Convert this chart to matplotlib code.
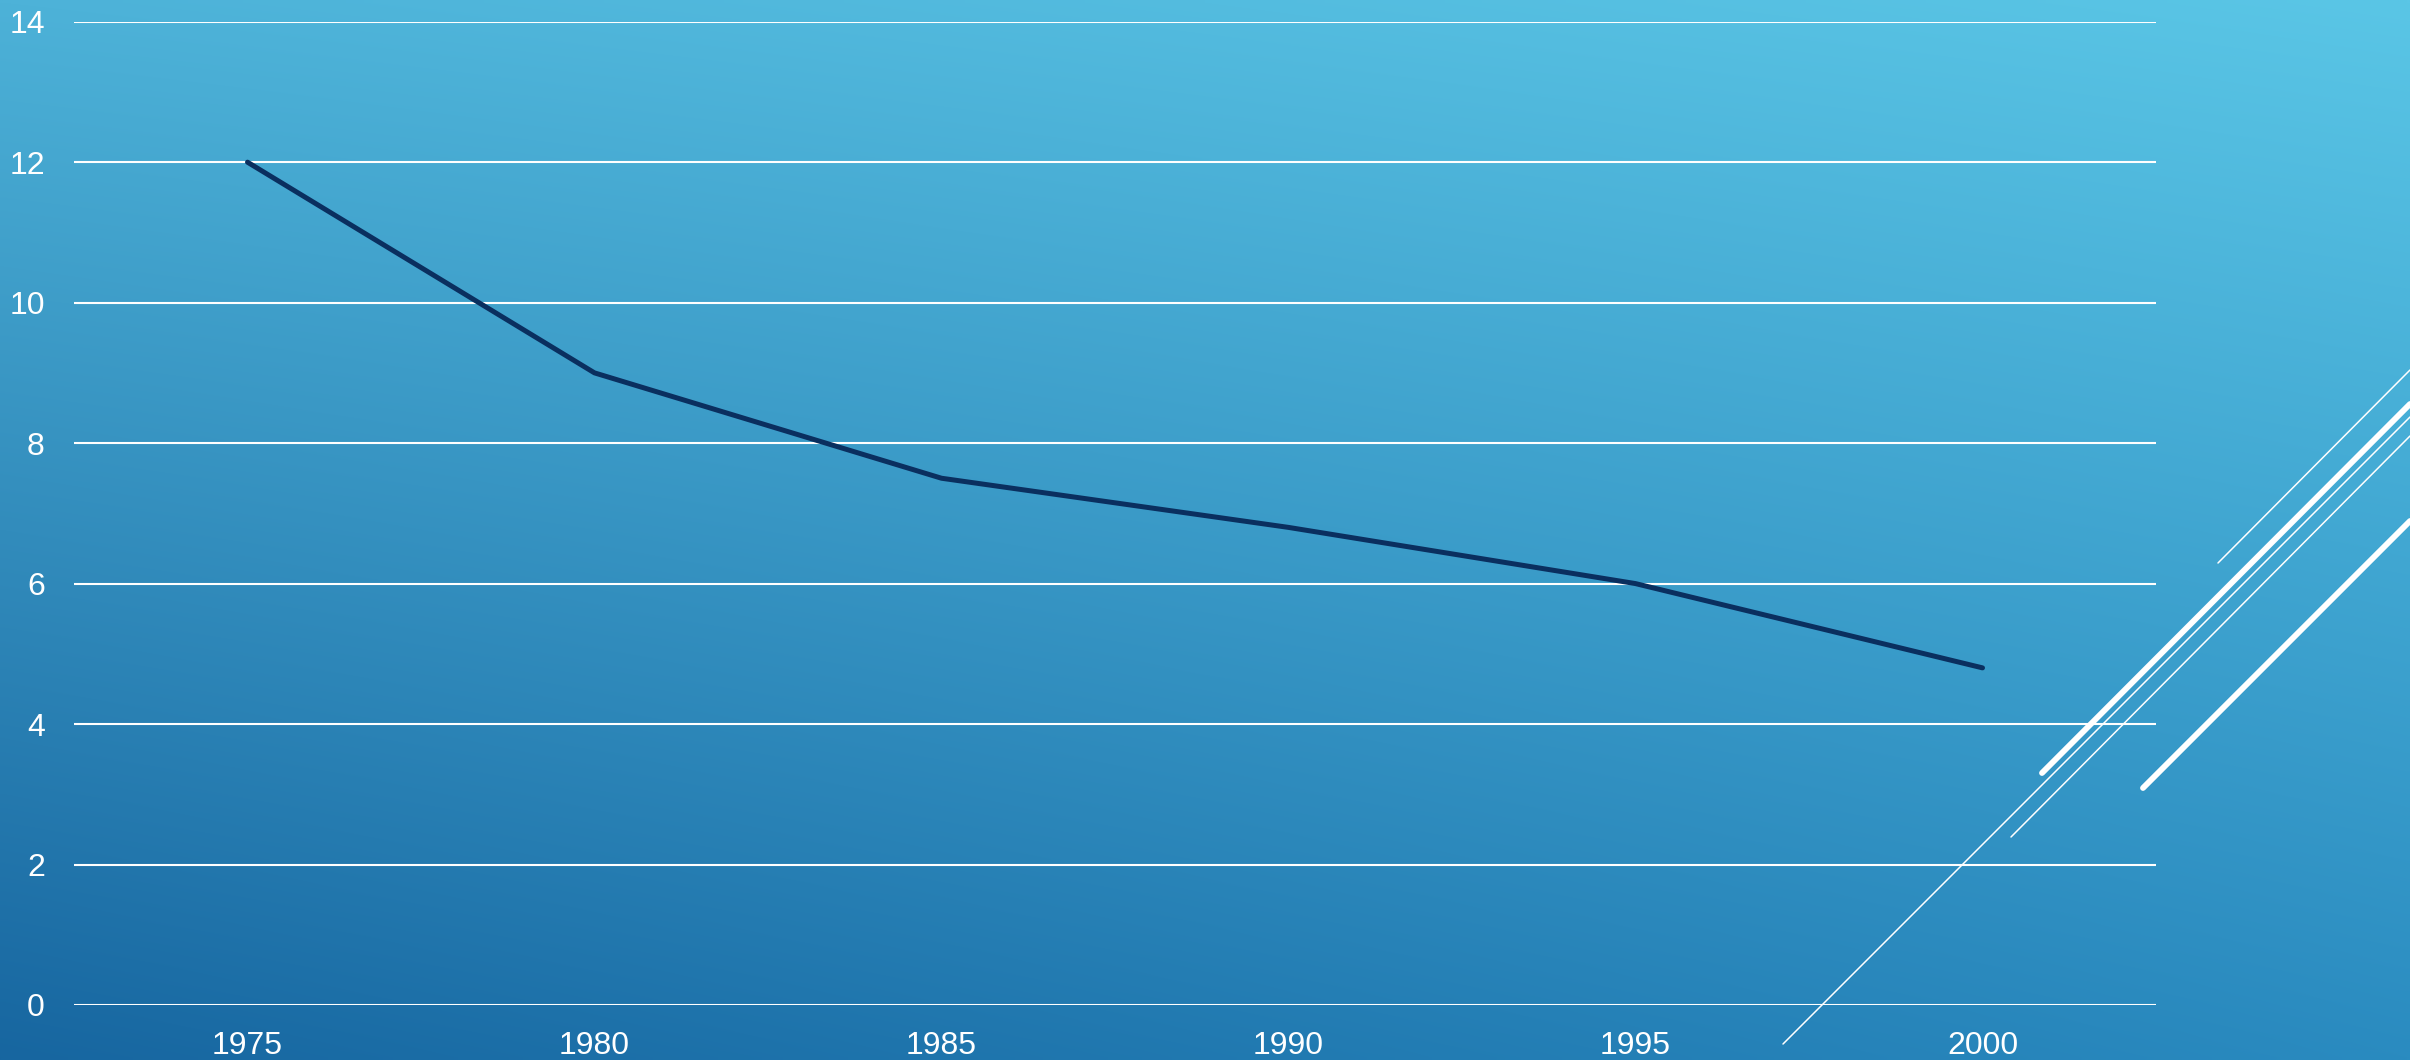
import numpy as np
import matplotlib.pyplot as plt
from matplotlib.lines import Line2D

years = [1975, 1980, 1985, 1990, 1995, 2000]
values = [12.0, 9.0, 7.5, 6.8, 6.0, 4.8]
yticks = [0, 2, 4, 6, 8, 10, 12, 14]

W, H = 2410, 1060
fig = plt.figure(figsize=(W/100, H/100), dpi=100)
plt.rcParams['font.family'] = ['Liberation Sans', 'DejaVu Sans']

# background gradient (corner colours)
tl = np.array([0x4D, 0xB2, 0xD8]) / 255
tr = np.array([0x5A, 0xC6, 0xE6]) / 255
bl = np.array([0x17, 0x66, 0xA0]) / 255
br = np.array([0x2A, 0x8B, 0xC0]) / 255
u = np.linspace(0, 1, 400)[None, :, None]
v = np.linspace(0, 1, 200)[:, None, None]
grad = (1-v)*((1-u)*tl + u*tr) + v*((1-u)*bl + u*br)
bg = fig.add_axes([0, 0, 1, 1])
bg.imshow(grad, aspect='auto', extent=[0, 1, 0, 1], interpolation='bilinear')
bg.axis('off')

ax = fig.add_axes([74/W, 1-1005/H, (2156-74)/W, (1005-21.7)/H])
ax.patch.set_alpha(0)
for s in ax.spines.values():
    s.set_visible(False)
ax.set_ylim(0, 14)
ax.set_xlim(1972.5, 2002.5)
ax.set_yticks(yticks)
ax.set_xticks(years)
ax.grid(axis='y', color='white', lw=1.5)
ax.set_axisbelow(True)
ax.tick_params(length=0, labelsize=23, colors='white')
ax.tick_params(axis='y', pad=21)
ax.tick_params(axis='x', pad=19)
ax.plot(years, values, color='#0A2F5F', lw=3.6, solid_capstyle='round', solid_joinstyle='round')

# decorative diagonal strokes
deco = [((2218, 563), (2410, 370), 1.1),
        ((2042, 773), (2410, 404), 4.2),
        ((1783, 1044), (2410, 417), 1.1),
        ((2011, 837), (2410, 436), 1.1),
        ((2143, 788), (2410, 521), 4.2)]
for (x0, y0), (x1, y1), lw in deco:
    fig.add_artist(Line2D([x0/W, x1/W], [1-y0/H, 1-y1/H], color='white', lw=lw,
                          solid_capstyle='round', transform=fig.transFigure))

fig.savefig('out.png', dpi=100)
